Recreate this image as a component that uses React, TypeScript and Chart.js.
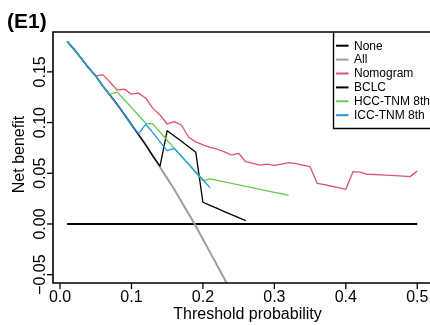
import React, { useEffect, useRef } from "react";
import { Chart, registerables } from "chart.js";

Chart.register(...registerables);

const thresholds = [
  0.01, 0.02, 0.03, 0.04, 0.05, 0.06, 0.07, 0.08, 0.09, 0.10,
  0.11, 0.12, 0.13, 0.14, 0.15, 0.16, 0.17, 0.18, 0.19, 0.20,
  0.21, 0.22, 0.23, 0.24, 0.25, 0.26, 0.27, 0.28, 0.29, 0.30,
  0.31, 0.32, 0.33, 0.34, 0.35, 0.36, 0.37, 0.38, 0.39, 0.40,
  0.41, 0.42, 0.43, 0.44, 0.45, 0.46, 0.47, 0.48, 0.49, 0.50,
];

const noneNB = [
  0, 0, 0, 0, 0, 0, 0, 0, 0, 0,
  0, 0, 0, 0, 0, 0, 0, 0, 0, 0,
  0, 0, 0, 0, 0, 0, 0, 0, 0, 0,
  0, 0, 0, 0, 0, 0, 0, 0, 0, 0,
  0, 0, 0, 0, 0, 0, 0, 0, 0, 0,
];

const allNB = [
  0.180, 0.172, 0.163, 0.154, 0.146, 0.136, 0.127, 0.118, 0.108, 0.098,
  0.088, 0.078, 0.067, 0.056, 0.045, 0.034, 0.022, 0.010, -0.002, -0.015,
  -0.028, -0.041, -0.054, -0.068,
];

const nomogramNB = [
  0.180, 0.172, 0.163, 0.154, 0.146, 0.147, 0.140, 0.132, 0.133, 0.128,
  0.129, 0.124, 0.114, 0.1075, 0.0986, 0.101, 0.0976, 0.0855, 0.081, 0.078,
  0.0755, 0.0737, 0.071, 0.068, 0.0697, 0.0614, 0.0597, 0.058, 0.059, 0.0578,
  0.059, 0.0605, 0.0595, 0.058, 0.0565, 0.040, 0.0388, 0.0372, 0.0358, 0.0342,
  0.0516, 0.0512, 0.049, 0.0488, 0.0485, 0.048, 0.0476, 0.0472, 0.0467, 0.0523,
];

const bclcNB = [
  0.180, 0.172, 0.163, 0.154, 0.146, 0.136, 0.127, 0.118, 0.108, 0.098,
  0.088, 0.078, 0.067, 0.057, 0.092, 0.0867, 0.0815, 0.0762, 0.0708, 0.0214,
  0.0183, 0.0153, 0.0122, 0.0092, 0.0062, 0.0033,
];

const hccNB = [
  0.180, 0.172, 0.163, 0.154, 0.146, 0.136, 0.128, 0.130, 0.1225, 0.1148,
  0.107, 0.0993, 0.0986, 0.0906, 0.0826, 0.0746, 0.0666, 0.0586, 0.0507, 0.0427,
  0.0444, 0.0429, 0.0415, 0.0400, 0.0385, 0.0371, 0.0356, 0.0342, 0.0327, 0.0312,
  0.0298, 0.0283,
];

const iccNB = [
  0.180, 0.172, 0.163, 0.154, 0.146, 0.136, 0.127, 0.118, 0.108, 0.098,
  0.089, 0.0983, 0.090, 0.081, 0.0723, 0.0746, 0.0668, 0.059, 0.0513, 0.0436,
  0.0358,
];

const seriesLabels = ["None", "All", "Nomogram", "BCLC", "HCC-TNM 8th", "ICC-TNM 8th"];
const seriesColors = ["#000000", "#9E9E9E", "#DF536B", "#000000", "#61D04F", "#2297E6"];
const seriesWidths = [2, 2, 1.3, 1.3, 1.3, 1.3];

const xTickValues = [0.0, 0.1, 0.2, 0.3, 0.4, 0.5];
const xTickLabels = ["0.0", "0.1", "0.2", "0.3", "0.4", "0.5"];
const yTickValues = [-0.05, 0.0, 0.05, 0.1, 0.15];
const yTickLabels = ["\u22120.05", "0.00", "0.05", "0.10", "0.15"];

const panelTitle = "(E1)";
const xTitle = "Threshold probability";
const yTitle = "Net benefit";

const FONT = "'Liberation Sans', Arial, Helvetica, sans-serif";

const toPoints = (vals: number[]) => vals.map((v, i) => ({ x: thresholds[i], y: v }));

const decorPlugin = {
  id: "decor",
  afterDraw(chart: any) {
    const ctx = chart.ctx as CanvasRenderingContext2D;
    const { left, top, right, bottom } = chart.chartArea;
    const xs = chart.scales.x;
    const ys = chart.scales.y;
    ctx.save();
    ctx.strokeStyle = "#000";
    ctx.fillStyle = "#000";
    ctx.lineWidth = 1.6;
    // frame (right side off-canvas)
    ctx.beginPath();
    ctx.moveTo(right + 10, top);
    ctx.lineTo(left, top);
    ctx.lineTo(left, bottom);
    ctx.lineTo(right + 10, bottom);
    ctx.stroke();

    // x ticks
    ctx.lineWidth = 1.3;
    ctx.font = `16px ${FONT}`;
    ctx.textAlign = "center";
    ctx.textBaseline = "alphabetic";
    xTickValues.forEach((v, i) => {
      const px = xs.getPixelForValue(v);
      ctx.beginPath();
      ctx.moveTo(px, bottom);
      ctx.lineTo(px, bottom + 6);
      ctx.stroke();
      ctx.fillText(xTickLabels[i], px, bottom + 19);
    });
    // y ticks
    yTickValues.forEach((v, i) => {
      const py = ys.getPixelForValue(v);
      ctx.beginPath();
      ctx.moveTo(left, py);
      ctx.lineTo(left - 6, py);
      ctx.stroke();
      ctx.save();
      ctx.translate(left - 8, py);
      ctx.rotate(-Math.PI / 2);
      ctx.textAlign = "center";
      ctx.textBaseline = "alphabetic";
      ctx.fillText(yTickLabels[i], 0, 0);
      ctx.restore();
    });

    // axis titles
    ctx.font = `16px ${FONT}`;
    ctx.textAlign = "center";
    ctx.fillText(xTitle, (left + right) / 2 + 6, 319);
    ctx.save();
    ctx.translate(24, (top + bottom) / 2 - 3);
    ctx.rotate(-Math.PI / 2);
    ctx.fillText(yTitle, 0, 0);
    ctx.restore();

    // panel title
    ctx.font = `bold 21px ${FONT}`;
    ctx.textAlign = "left";
    ctx.fillText(panelTitle, 7, 28);

    // legend
    const lx = 333.5;
    const ly = top;
    const lh = 128.5 - top;
    ctx.lineWidth = 1.4;
    ctx.beginPath();
    ctx.moveTo(right + 10, ly + lh);
    ctx.lineTo(lx, ly + lh);
    ctx.lineTo(lx, ly);
    ctx.stroke();
    ctx.font = `12px ${FONT}`;
    ctx.textAlign = "left";
    ctx.textBaseline = "middle";
    chart.data.datasets.forEach((ds: any, i: number) => {
      const cy = 45.7 + i * 13.9;
      ctx.strokeStyle = ds.borderColor;
      ctx.lineWidth = 2;
      ctx.beginPath();
      ctx.moveTo(336, cy);
      ctx.lineTo(348.5, cy);
      ctx.stroke();
      ctx.fillStyle = "#000";
      ctx.fillText(ds.label, 354, cy + 0.5);
    });
    ctx.restore();
  },
};

export default function App() {
  const ref = useRef<HTMLCanvasElement | null>(null);

  useEffect(() => {
    document.body.style.margin = "0";
    document.body.style.overflow = "hidden";
    const canvas = ref.current;
    if (!canvas) return;
    const seriesValues = [noneNB, allNB, nomogramNB, bclcNB, hccNB, iccNB];
    const datasets = seriesValues.map((vals, i) => ({
      label: seriesLabels[i],
      data: toPoints(vals),
      borderColor: seriesColors[i],
      backgroundColor: seriesColors[i],
      borderWidth: seriesWidths[i],
      pointRadius: 0,
      tension: 0,
      fill: false,
      order: seriesLabels.length - i,
      borderJoinStyle: "round" as const,
    }));
    const chart = new Chart(canvas, {
      type: "line",
      data: { datasets },
      options: {
        animation: false,
        responsive: false,
        devicePixelRatio: 1,
        layout: { padding: { top: 32, left: 0, right: 0, bottom: 0 } },
        plugins: {
          legend: { display: false },
          tooltip: { enabled: false },
          title: { display: false },
        },
        scales: {
          x: {
            type: "linear",
            min: -0.0098,
            max: 0.5178,
            ticks: { display: false },
            grid: { display: false },
            border: { display: false },
            afterFit: (s: any) => {
              s.height = 42;
            },
          },
          y: {
            type: "linear",
            min: -0.0582,
            max: 0.1893,
            ticks: { display: false },
            grid: { display: false },
            border: { display: false },
            afterFit: (s: any) => {
              s.width = 53;
            },
          },
        },
      } as any,
      plugins: [decorPlugin],
    });
    return () => chart.destroy();
  }, []);

  return (
    <div style={{ width: 430, height: 325, overflow: "hidden", background: "#fff" }}>
      <canvas ref={ref} width={430} height={325} style={{ display: "block" }} />
    </div>
  );
}
